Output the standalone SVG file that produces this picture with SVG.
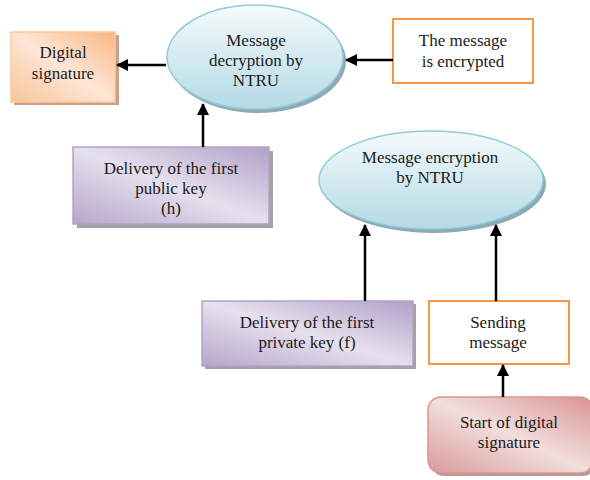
<svg xmlns="http://www.w3.org/2000/svg" width="590" height="480" viewBox="0 0 590 480">
<style>
text{font-family:"Liberation Serif","Times New Roman",serif;font-size:17px;fill:#1a1a1a;text-anchor:middle}
.shadow{fill:#a5a0a5}
.eshadow{fill:#8eabb3}
.conn{stroke:#000;stroke-width:2.5;fill:none;marker-end:url(#ah)}
</style>
<defs>
<marker id="ah" markerWidth="12" markerHeight="12" refX="11" refY="6" orient="auto" markerUnits="userSpaceOnUse">
<path d="M0,0 L12,6 L0,12 Z" fill="#000"/>
</marker>
<linearGradient id="gEll" x1="0" y1="0" x2="0" y2="1">
<stop offset="0" stop-color="#f4fafc"/>
<stop offset="1" stop-color="#b4dae5"/>
</linearGradient>
<linearGradient id="gOr" x1="1" y1="0" x2="0" y2="1">
<stop offset="0" stop-color="#f8b884"/>
<stop offset="0.5" stop-color="#fde6d6"/>
<stop offset="1" stop-color="#f9c49c"/>
</linearGradient>
<linearGradient id="gPu" x1="1" y1="0" x2="0" y2="1">
<stop offset="0" stop-color="#b1a0c8"/>
<stop offset="0.5" stop-color="#e6e0ee"/>
<stop offset="1" stop-color="#b6a6cb"/>
</linearGradient>
<linearGradient id="gPk" x1="1" y1="0" x2="0" y2="1">
<stop offset="0" stop-color="#d99493"/>
<stop offset="0.5" stop-color="#f2dedd"/>
<stop offset="1" stop-color="#d99a99"/>
</linearGradient>
</defs>

<g id="digital-signature">
<rect x="14" y="35" width="105" height="70" style="fill:#caa287"/>
<rect x="11" y="32" width="104" height="70" fill="url(#gOr)" stroke="#fbc9a0" stroke-width="1.5"/>
<text x="63" y="58">Digital</text>
<text x="63" y="79">signature</text>
</g>

<g id="decryption">
<ellipse cx="258" cy="61" rx="88" ry="52" class="eshadow"/>
<ellipse cx="255" cy="57" rx="88" ry="52" fill="url(#gEll)" stroke="#92cbdb" stroke-width="1.5"/>
<text x="256" y="46">Message</text>
<text x="256" y="66">decryption by</text>
<text x="256" y="86">NTRU</text>
</g>

<g id="encrypted-msg">
<rect x="393" y="19" width="140" height="64" fill="#fff" stroke="#f79646" stroke-width="2"/>
<text x="463" y="46">The message</text>
<text x="463" y="67">is encrypted</text>
</g>

<g id="public-key">
<rect x="77" y="151" width="196" height="77" class="shadow"/>
<rect x="73" y="147" width="196" height="77" fill="url(#gPu)" stroke="#b3a2c7" stroke-width="1.5"/>
<text x="171" y="174">Delivery of the first</text>
<text x="171" y="194">public key</text>
<text x="171" y="214">(h)</text>
</g>

<g id="encryption">
<ellipse cx="434" cy="184" rx="112" ry="49" class="eshadow"/>
<ellipse cx="431" cy="180" rx="112" ry="49" fill="url(#gEll)" stroke="#92cbdb" stroke-width="1.5"/>
<text x="430" y="163">Message encryption</text>
<text x="430" y="183">by NTRU</text>
</g>

<g id="private-key">
<rect x="205" y="304" width="211" height="65" class="shadow"/>
<rect x="202" y="301" width="211" height="65" fill="url(#gPu)" stroke="#b3a2c7" stroke-width="1.5"/>
<text x="307" y="328">Delivery of the first</text>
<text x="307" y="348">private key (f)</text>
</g>

<g id="sending">
<rect x="429" y="301" width="140" height="63" fill="#fff" stroke="#f79646" stroke-width="2"/>
<text x="498" y="328">Sending</text>
<text x="498" y="348">message</text>
</g>

<g id="start">
<rect x="431" y="400" width="165" height="76" rx="13" style="fill:#b99a9a"/>
<rect x="428" y="397" width="165" height="76" rx="13" fill="url(#gPk)" stroke="#d99694" stroke-width="1.5"/>
<text x="509" y="428">Start of digital</text>
<text x="509" y="448">signature</text>
</g>

<g id="connectors">
<line x1="166" y1="65" x2="117" y2="65" class="conn"/>
<line x1="393" y1="60" x2="346" y2="60" class="conn"/>
<line x1="203" y1="147" x2="203" y2="104" class="conn"/>
<line x1="365" y1="301" x2="365" y2="225" class="conn"/>
<line x1="496" y1="301" x2="496" y2="225" class="conn"/>
<line x1="503" y1="397" x2="503" y2="365" class="conn"/>
</g>
</svg>
